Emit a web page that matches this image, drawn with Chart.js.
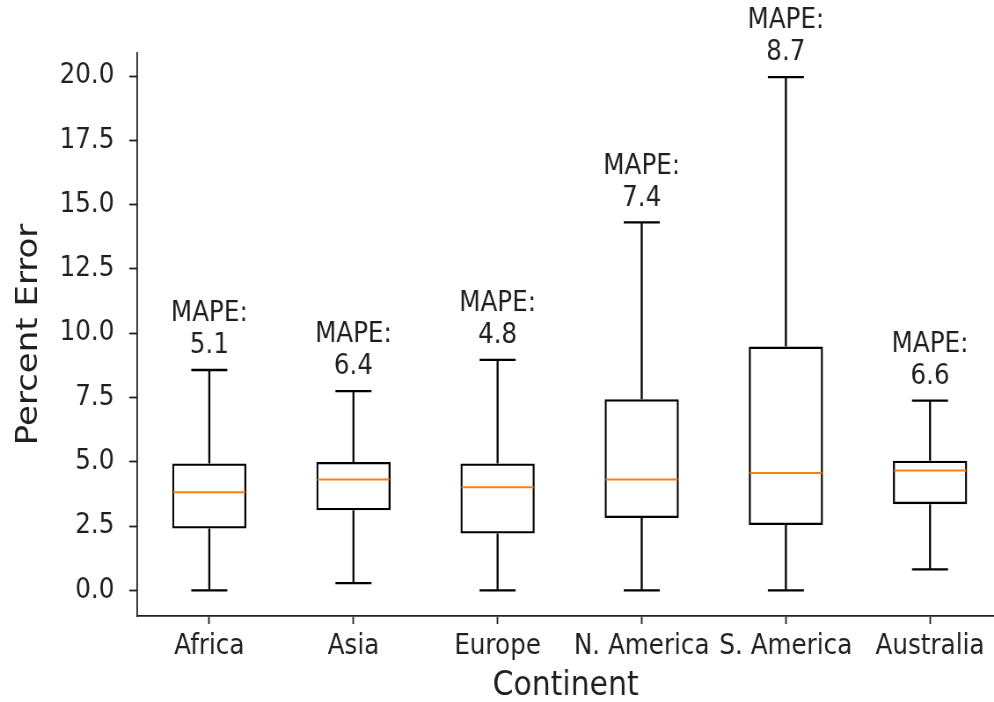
<!DOCTYPE html>
<html>
<head>
<meta charset="utf-8">
<script src="https://cdn.jsdelivr.net/npm/chart.js@4/dist/chart.umd.min.js"></script>
<style>
  html, body { margin: 0; padding: 0; background: #ffffff; overflow: hidden; }
  canvas { display: block; }
</style>
</head>
<body>
<!-- drawn on a wider canvas and shown narrower, which gives the condensed lettering -->
<canvas id="chart" width="1130" height="702" style="width:994px;height:702px"></canvas>
<script>
// Percent error per continent: box-plot summary values
const categories  = ['Africa', 'Asia', 'Europe', 'N. America', 'S. America', 'Australia'];
const whiskerLow  = [0.00, 0.28, 0.00, 0.00, 0.00, 0.81];
const quartile1   = [2.40, 3.11, 2.21, 2.81, 2.54, 3.35];
const medians     = [3.81, 4.31, 4.01, 4.31, 4.56, 4.66];
const quartile3   = [4.93, 4.99, 4.93, 7.43, 9.48, 5.04];
const whiskerHigh = [8.57, 7.75, 8.96, 14.31, 19.96, 7.38];
const mapeValues  = [5.1, 6.4, 4.8, 7.4, 8.7, 6.6];
const yTickValues = [0, 2.5, 5, 7.5, 10, 12.5, 15, 17.5, 20];
const yTickLabels = ['0.0', '2.5', '5.0', '7.5', '10.0', '12.5', '15.0', '17.5', '20.0'];

const TEXT = '#1f1f1f';
const FONT = 'DejaVu Sans';
const CAP_HALF = 0.125;   // half width of whisker caps, in category units
const BOX_HALF = 0.25;    // half width of each box

const positions = categories.map((_, i) => i + 1);
const gap = x => ({ x: x, y: null });

const boxData = positions.map((p, i) => ({ x: p, y: [quartile1[i], quartile3[i]] }));

const whiskerData = [];
positions.forEach((p, i) => {
  whiskerData.push(
    { x: p, y: whiskerLow[i] }, { x: p, y: quartile1[i] }, gap(p),
    { x: p, y: quartile3[i] }, { x: p, y: whiskerHigh[i] }, gap(p),
    { x: p - CAP_HALF, y: whiskerLow[i] }, { x: p + CAP_HALF, y: whiskerLow[i] }, gap(p),
    { x: p - CAP_HALF, y: whiskerHigh[i] }, { x: p + CAP_HALF, y: whiskerHigh[i] }, gap(p)
  );
});

const medianData = [];
positions.forEach((p, i) => {
  medianData.push({ x: p - BOX_HALF, y: medians[i] }, { x: p + BOX_HALF, y: medians[i] }, gap(p));
});

// "MAPE:" annotation above each upper whisker
const mapeLabels = {
  id: 'mapeLabels',
  afterDatasetsDraw(chart) {
    const { ctx, scales: { x, y } } = chart;
    ctx.save();
    ctx.fillStyle = TEXT;
    ctx.font = '28px "' + FONT + '"';
    ctx.textAlign = 'center';
    ctx.textBaseline = 'middle';
    positions.forEach((p, i) => {
      const px = x.getPixelForValue(p);
      const top = y.getPixelForValue(whiskerHigh[i]);
      ctx.fillText(mapeValues[i].toFixed(1), px, top - 24);
      ctx.fillText('MAPE:', px, top - 56);
    });
    ctx.restore();
  }
};

new Chart(document.getElementById('chart'), {
  type: 'bar',
  data: {
    datasets: [
      {
        type: 'bar',
        label: 'IQR',
        data: boxData,
        backgroundColor: 'rgba(255,255,255,0)',
        borderColor: '#000000',
        borderWidth: 2.3,
        borderSkipped: false,
        barPercentage: 1,
        categoryPercentage: 0.515,
        grouped: false,
        order: 3
      },
      {
        type: 'line',
        label: 'whiskers',
        data: whiskerData,
        borderColor: '#000000',
        borderWidth: 2.3,
        pointRadius: 0,
        spanGaps: false,
        tension: 0,
        order: 2
      },
      {
        type: 'line',
        label: 'median',
        data: medianData,
        borderColor: '#ff7f0e',
        borderWidth: 2,
        pointRadius: 0,
        spanGaps: false,
        tension: 0,
        order: 1
      }
    ]
  },
  options: {
    responsive: false,
    devicePixelRatio: 1,
    animation: false,
    events: [],
    layout: { padding: { top: 53, left: 0, right: 0, bottom: 0 } },
    plugins: {
      legend: { display: false },
      tooltip: { enabled: false }
    },
    scales: {
      x: {
        type: 'linear',
        min: 0.5,
        max: 6.444,
        offset: false,
        afterBuildTicks(scale) { scale.ticks = positions.map(v => ({ value: v })); },
        afterFit(scale) { scale.height = 86; },
        ticks: {
          autoSkip: false,
          maxRotation: 0,
          minRotation: 0,
          padding: 6,
          color: TEXT,
          font: { family: FONT, size: 28 },
          callback: (v, idx) => categories[idx]
        },
        grid: {
          display: true,
          offset: false,
          drawOnChartArea: false,
          drawTicks: true,
          tickLength: 8,
          tickColor: TEXT,
          tickWidth: 1.8
        },
        border: { display: true, color: TEXT, width: 1.8 },
        title: {
          display: true,
          text: 'Continent',
          color: TEXT,
          font: { family: FONT, size: 34, lineHeight: 0.94 },
          padding: { top: 0, bottom: 0 }
        }
      },
      y: {
        type: 'linear',
        min: -1.0,
        max: 20.9,
        afterBuildTicks(scale) { scale.ticks = yTickValues.map(v => ({ value: v })); },
        afterFit(scale) { scale.width = 156; },
        ticks: {
          autoSkip: false,
          padding: 17,
          color: TEXT,
          font: { family: FONT, size: 28 },
          callback: (v, idx) => yTickLabels[idx]
        },
        grid: {
          display: true,
          drawOnChartArea: false,
          drawTicks: true,
          tickLength: 9,
          tickColor: TEXT,
          tickWidth: 1.8
        },
        border: { display: true, color: TEXT, width: 1.8 },
        title: {
          display: true,
          text: 'Percent Error',
          color: TEXT,
          font: { family: FONT, size: 34, lineHeight: 1.2 },
          padding: { top: 13, bottom: 0 }
        }
      }
    }
  },
  plugins: [mapeLabels]
});
</script>
</body>
</html>
